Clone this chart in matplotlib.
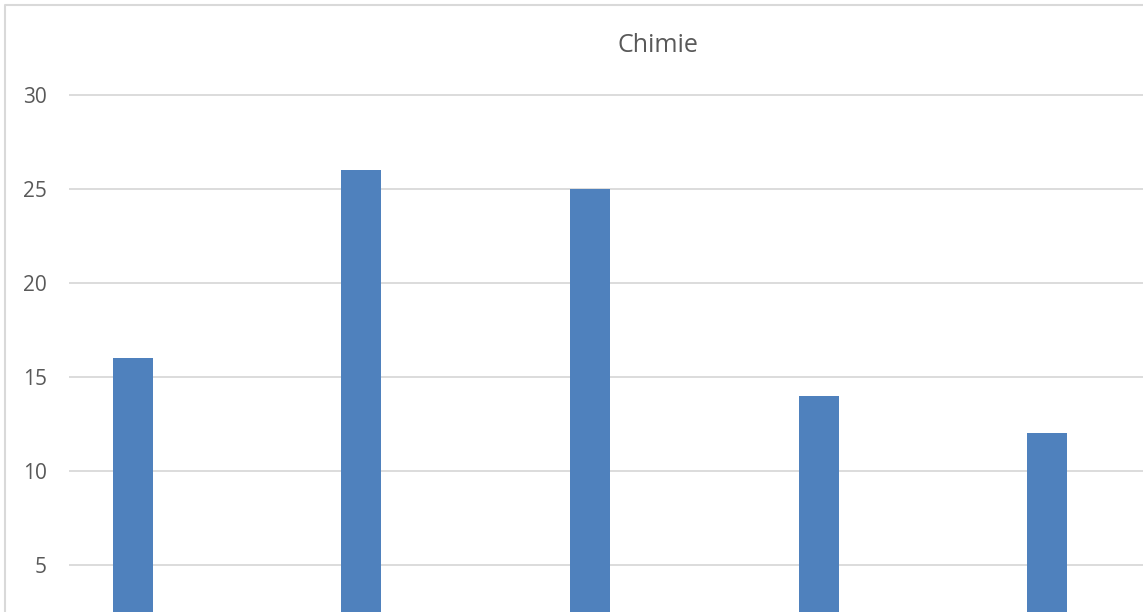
import matplotlib
matplotlib.use('Agg')
import matplotlib.pyplot as plt
from matplotlib.lines import Line2D

plt.rcParams['font.family'] = ['Open Sans', 'DejaVu Sans']

categories = ['A', 'B', 'C', 'D', 'E']  # x labels are cut off in the reference
values = [16, 26, 25, 14, 12]
yticks = [5, 10, 15, 20, 25, 30]

W, H = 1143, 612
fig = plt.figure(figsize=(W / 100, H / 100), dpi=100)

# chart frame: only top and left edges are visible (cropped at right and bottom)
frame_x = [5 / W, 5 / W, 1.0]
frame_y = [0.0, 1 - 5 / H, 1 - 5 / H]
fig.lines.append(Line2D(frame_x, frame_y, transform=fig.transFigure,
                        color='#D9D9D9', linewidth=1.5))

ax = fig.add_axes([69 / W, 0, (W - 69) / W, 1])
x = list(range(len(categories)))
ax.bar(x, values, width=0.175, color='#4F81BD', zorder=3)

ax.set_xlim(-0.28, 4.42)
ax.set_ylim(2.5, 35.05)
ax.set_yticks(yticks)
ax.set_yticklabels([str(t) for t in yticks], fontsize=15, color='#595959')
ax.tick_params(axis='y', length=0, pad=16)
ax.set_xticks([])
ax.grid(axis='y', color='#D9D9D9', linewidth=1.3, zorder=0)
for s in ax.spines.values():
    s.set_visible(False)
ax.patch.set_alpha(0)

fig.text(658 / W, 1 - 46 / H, 'Chimie', ha='center', va='center', fontsize=18, color='#595959')

fig.savefig('out.png', dpi=100)
